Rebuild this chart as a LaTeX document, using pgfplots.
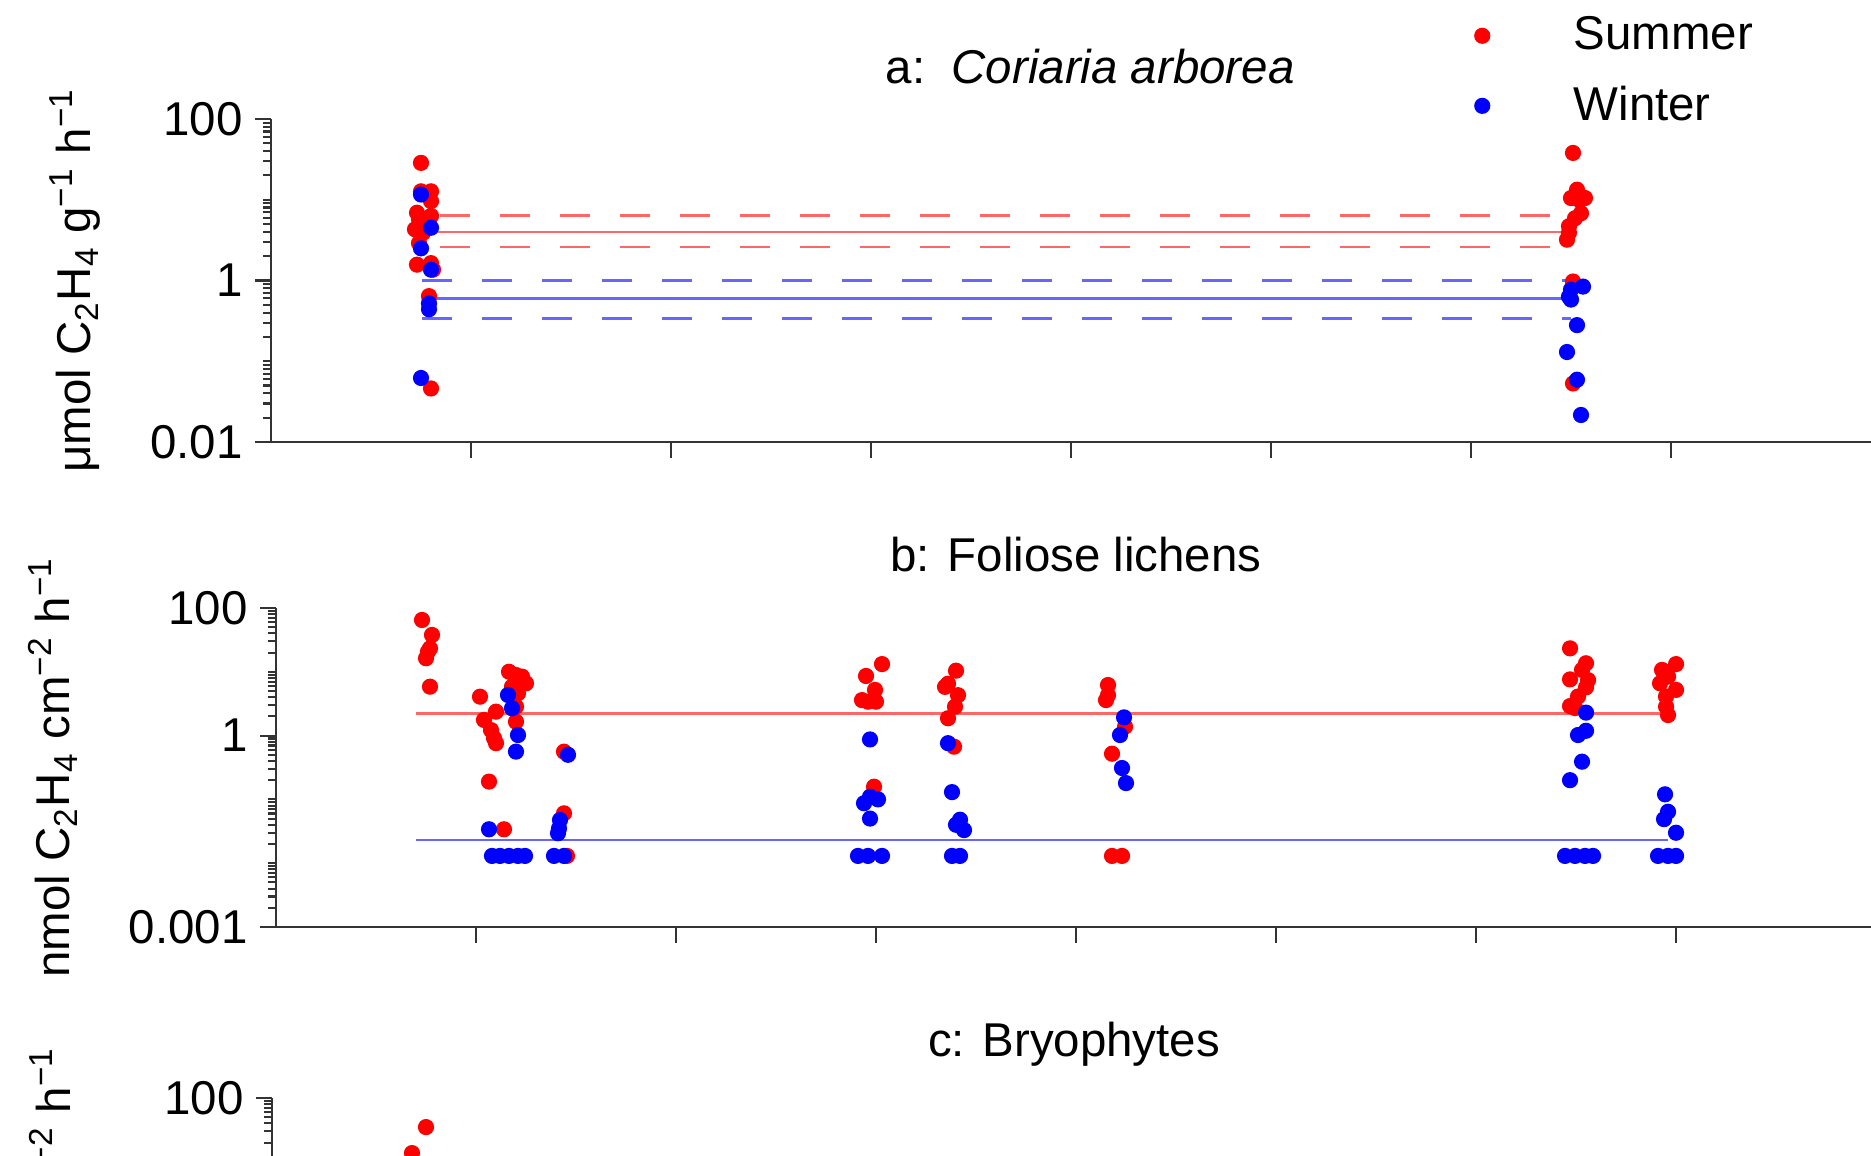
\documentclass[border=0pt]{standalone}
\usepackage{fontspec}
\setmainfont{Liberation Sans}
\usepackage{pgfplots}
\pgfplotsset{compat=1.18}
\newcommand{\fs}{\fontsize{13.5pt}{16pt}\selectfont}
\pgfplotsset{
  panel/.style={
    scale only axis,
    axis x line*=bottom, axis y line*=left,
    axis line style={line width=0.7pt, black!80},
    xtick={1,...,7}, xticklabels={},
    tick align=outside,
    major tick length=0.16cm, minor tick length=0.08cm,
    every tick/.style={black!80, line width=0.6pt},
    tick label style={font=\fs},
    /pgf/number format/assume math mode=true,
    clip=false,
  },
  sm/.style={only marks, mark=*, mark size=2.1pt, mark options={draw=none, fill=red}, color=red},
  wm/.style={only marks, mark=*, mark size=2.1pt, mark options={draw=none, fill=blue}, color=blue},
  rl/.style={no marks, red!60, line width=0.75pt, forget plot},
  bl/.style={no marks, blue!60, line width=0.75pt, forget plot},
  dl/.style={dash pattern=on 0.3cm off 0.3cm},
}
\begin{document}
\begin{tikzpicture}[x=1cm,y=1cm]
\useasboundingbox (0,0) rectangle (18.71,11.56);
% ---------------- panel a
\begin{semilogyaxis}[panel, at={(2.71cm,7.14cm)}, anchor=south west, width=16cm, height=3.23cm,
  xmin=0, xmax=8, ymin=0.01, ymax=100,
  ytick={0.01,1,100}, yticklabels={0.01,1,100},
  minor ytick={0.02,0.03,0.04,0.05,0.06,0.07,0.08,0.09,0.1,0.2,0.3,0.4,0.5,0.6,0.7,0.8,0.9,2,3,4,5,6,7,8,9,10,20,30,40,50,60,70,80,90},
  ylabel={μmol C\textsubscript{2}H\textsubscript{4} g\textsuperscript{−1} h\textsuperscript{−1}},
  every axis y label/.style={at={(axis description cs:-0.1125,0.5)}, rotate=90, anchor=base, font=\fs},
  title={a:\ \ \textit{Coriaria arborea}},
  every axis title/.style={at={(axis description cs:0.512,1)}, anchor=center, yshift=0.52cm, font=\fs},
  legend style={at={(axis description cs:0.752,1.341)}, anchor=north west, draw=none, fill=none,
    font=\fs, row sep=0.17cm, inner sep=0pt,
    /tikz/every odd column/.append style={column sep=0.77cm}},
  legend cell align=left,
]
\addplot[sm] coordinates {
(0.75,28.6) (0.75,12.7) (0.80,12.7) (0.80,9.6) (0.73,6.9) (0.74,5.7) (0.80,6.3)
(0.72,4.3) (0.76,3.9) (0.74,2.9) (0.80,1.64) (0.73,1.57) (0.81,1.36) (0.79,0.64) (0.80,0.046)
(6.51,38) (6.53,13.3) (6.50,10.5) (6.57,10.5) (6.54,10) (6.55,6.8) (6.52,5.9)
(6.49,4.7) (6.49,3.9) (6.48,3.2) (6.51,0.97) (6.51,0.053)
};
\addlegendentry{Summer}
\addplot[wm] coordinates {
(0.75,11.6) (0.80,4.5) (0.75,2.5) (0.80,1.36) (0.79,0.52) (0.79,0.44) (0.75,0.062)
(6.56,0.84) (6.50,0.77) (6.49,0.63) (6.50,0.58) (6.53,0.28) (6.48,0.13) (6.53,0.059) (6.55,0.0216)
};
\addlegendentry{Winter}
\addplot[rl] coordinates {(0.82,3.97) (6.455,3.97)};
\addplot[rl,dl] coordinates {(0.845,6.34) (6.49,6.34)};
\addplot[rl,dl] coordinates {(0.845,2.61) (6.49,2.61)};
\addplot[bl] coordinates {(0.755,0.598) (6.50,0.598)};
\addplot[bl,dl] coordinates {(0.755,1.0) (6.50,1.0)};
\addplot[bl,dl] coordinates {(0.755,0.341) (6.50,0.341)};
\end{semilogyaxis}
% ---------------- panel b
\begin{semilogyaxis}[panel, at={(2.76cm,2.29cm)}, anchor=south west, width=15.95cm, height=3.19cm,
  xmin=0, xmax=7.975, ymin=0.001, ymax=100,
  ytick={0.001,1,100}, yticklabels={0.001,1,100},
  minor ytick={0.002,0.003,0.004,0.005,0.006,0.007,0.008,0.009,0.01,0.02,0.03,0.04,0.05,0.06,0.07,0.08,0.09,0.1,0.2,0.3,0.4,0.5,0.6,0.7,0.8,0.9,2,3,4,5,6,7,8,9,10,20,30,40,50,60,70,80,90},
  ylabel={nmol C\textsubscript{2}H\textsubscript{4} cm\textsuperscript{−2} h\textsuperscript{−1}},
  every axis y label/.style={at={(axis description cs:-0.1292,0.5)}, rotate=90, anchor=base, font=\fs},
  title={b: Foliose lichens},
  every axis title/.style={at={(axis description cs:0.5016,1)}, anchor=center, yshift=0.53cm, font=\fs},
]
\addplot[sm] coordinates {
(0.73,64.9) (0.78,37.8) (0.77,23.3) (0.76,20.7) (0.75,16.3) (0.77,5.84)
(1.02,4.07) (1.10,2.37) (1.04,1.76) (1.075,1.22) (1.09,0.91) (1.10,0.76) (1.065,0.19) (1.14,0.034)
(1.165,10.0) (1.20,8.9) (1.23,8.4) (1.25,6.6) (1.18,5.84) (1.21,4.6) (1.20,2.84) (1.20,1.65)
(1.44,0.56) (1.44,0.0605) (1.455,0.013)
(3.03,13.2) (2.95,8.6) (2.995,5.2) (2.93,3.6) (3.00,3.4) (2.96,3.4) (2.99,0.158)
(3.40,10.4) (3.345,5.8) (3.36,6.5) (3.41,4.3) (3.395,2.84) (3.36,1.87) (3.39,0.67)
(4.16,6.2) (4.16,4.3) (4.15,3.6) (4.245,1.38) (4.18,0.52) (4.18,0.013) (4.23,0.013)
(6.47,23.3) (6.55,13.6) (6.53,10.7) (6.47,7.6) (6.56,7.4) (6.55,5.7) (6.51,4.1) (6.47,2.9) (6.495,2.7)
(7.00,13.2) (6.93,10.7) (6.96,8.4) (6.92,6.6) (7.00,5.2) (6.95,4.1) (6.95,2.84) (6.96,2.1)
};
\addplot[wm] coordinates {
(1.065,0.034) (1.08,0.013) (1.12,0.013)
(1.16,4.33) (1.18,2.68) (1.21,1.02) (1.20,0.56) (1.165,0.013) (1.21,0.013) (1.245,0.013)
(1.46,0.50) (1.42,0.0475) (1.415,0.035) (1.41,0.0295) (1.39,0.013) (1.44,0.013)
(2.97,0.87) (2.97,0.11) (3.01,0.10) (2.94,0.087) (2.97,0.05) (2.91,0.013) (2.96,0.013) (3.03,0.013)
(3.36,0.76) (3.38,0.13) (3.42,0.048) (3.44,0.033) (3.40,0.04) (3.38,0.013) (3.42,0.013)
(4.24,1.93) (4.22,1.02) (4.23,0.31) (4.25,0.18)
(6.55,2.29) (6.55,1.19) (6.51,1.02) (6.53,0.39) (6.47,0.20)
(6.445,0.013) (6.495,0.013) (6.545,0.013) (6.585,0.013)
(6.945,0.12) (6.96,0.064) (6.94,0.049) (7.00,0.030) (6.91,0.013) (6.96,0.013) (7.00,0.013)
};
\addplot[rl] coordinates {(0.70,2.23) (6.92,2.23)};
\addplot[bl] coordinates {(0.70,0.0231) (6.96,0.0231)};
\end{semilogyaxis}
% ---------------- panel c (cut off by the page edge)
\begin{semilogyaxis}[panel, overlay, at={(2.72cm,-2.61cm)}, anchor=south west, width=15.99cm, height=3.19cm,
  xmin=0, xmax=7.995, ymin=0.001, ymax=100,
  ytick={0.001,1,100}, yticklabels={0.001,1,100},
  minor ytick={0.002,0.003,0.004,0.005,0.006,0.007,0.008,0.009,0.01,0.02,0.03,0.04,0.05,0.06,0.07,0.08,0.09,0.1,0.2,0.3,0.4,0.5,0.6,0.7,0.8,0.9,2,3,4,5,6,7,8,9,10,20,30,40,50,60,70,80,90},
  ylabel={nmol C\textsubscript{2}H\textsubscript{4} cm\textsuperscript{−2} h\textsuperscript{−1}},
  every axis y label/.style={at={(axis description cs:-0.126,0.5)}, rotate=90, anchor=base, font=\fs},
  title={c: Bryophytes},
  every axis title/.style={at={(axis description cs:0.5016,1)}, anchor=center, yshift=0.54cm, font=\fs},
]
\addplot[sm] coordinates {(0.77,35) (0.70,13.7) (0.72,5.0)};
\end{semilogyaxis}
\end{tikzpicture}
\end{document}
